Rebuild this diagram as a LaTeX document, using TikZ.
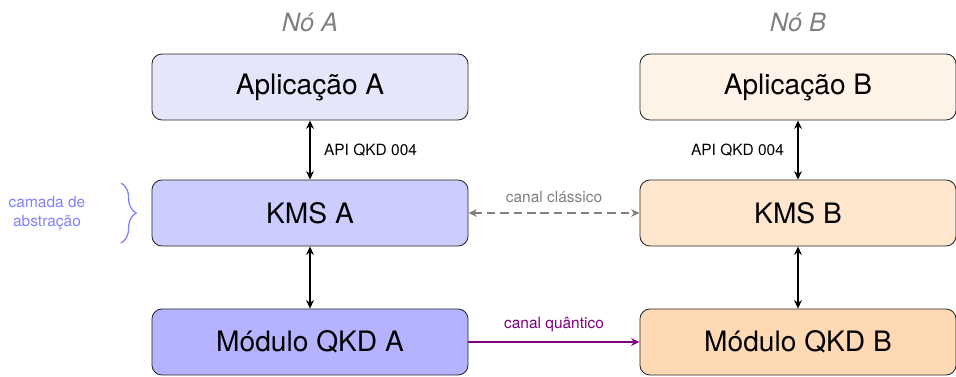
\documentclass[tikz,border=0pt]{standalone}
\usepackage{fontspec}
\setmainfont{TeX Gyre Heros}
\usetikzlibrary{arrows.meta,decorations.pathreplacing}
\definecolor{appA}{HTML}{E6E6FA}
\definecolor{kmsA}{HTML}{CCCCFF}
\definecolor{modA}{HTML}{B3B3FF}
\definecolor{appB}{HTML}{FFF2E6}
\definecolor{kmsB}{HTML}{FFE6CC}
\definecolor{modB}{HTML}{FFD9B3}
\definecolor{camada}{HTML}{8080FF}
\definecolor{quantico}{HTML}{800080}
\begin{document}
\begin{tikzpicture}[x=0.025cm,y=-0.025cm,
	bloco/.style={draw=black!85,line width=0.6pt,rounded corners=0.25cm,minimum width=7.9cm,minimum height=1.65cm,inner sep=0pt,font=\fontsize{20}{24}\selectfont},
	titulo/.style={text=gray,font=\fontsize{18}{22}\selectfont\itshape},
	rotulo/.style={font=\fontsize{11}{13}\selectfont},
	ligacao/.style={line width=1.4pt,{Stealth[length=6pt,width=5.5pt]}-{Stealth[length=6pt,width=5.5pt]}}]
	\useasboundingbox (0,0) rectangle (956,376);
	% nos
	\node[titulo] (tituloA) at (310,22) {Nó A};
	\node[titulo] (tituloB) at (798,22) {Nó B};
	\node[bloco,fill=appA] (appA) at (310,87) {Aplicação A};
	\node[bloco,fill=kmsA] (kmsA) at (310,213) {KMS A};
	\node[bloco,fill=modA] (modA) at (310,342) {Módulo QKD A};
	\node[bloco,fill=appB] (appB) at (798,87) {Aplicação B};
	\node[bloco,fill=kmsB] (kmsB) at (798,213) {KMS B};
	\node[bloco,fill=modB] (modB) at (798,342) {Módulo QKD B};
	% ligacoes verticais
	\draw[ligacao] (appA.south) -- (kmsA.north) node[midway,anchor=west,rotulo,xshift=6pt] {API QKD 004};
	\draw[ligacao] (kmsA.south) -- (modA.north);
	\draw[ligacao] (appB.south) -- (kmsB.north) node[midway,anchor=east,rotulo,xshift=-6pt] {API QKD 004};
	\draw[ligacao] (kmsB.south) -- (modB.north);
	% canais
	\draw[ligacao,gray,dashed,dash pattern=on 6pt off 3.5pt] (kmsA.east) -- (kmsB.west) node[midway,above=3pt,rotulo] {canal clássico};
	\draw[line width=1.4pt,quantico,-{Stealth[length=6pt,width=5.5pt]}] (modA.east) -- (modB.west) node[midway,above=3pt,rotulo] {canal quântico};
	% camada de abstracao
	\coordinate (chaveTopo) at (121,183);
	\coordinate (chaveBase) at (121,243);
	\draw[camada,line width=0.9pt,decorate,decoration={brace,amplitude=0.38cm}] (chaveTopo) -- (chaveBase);
	\node[text=camada,rotulo,align=center] (camada) at (47,213) {camada de\\abstração};
\end{tikzpicture}
\end{document}
